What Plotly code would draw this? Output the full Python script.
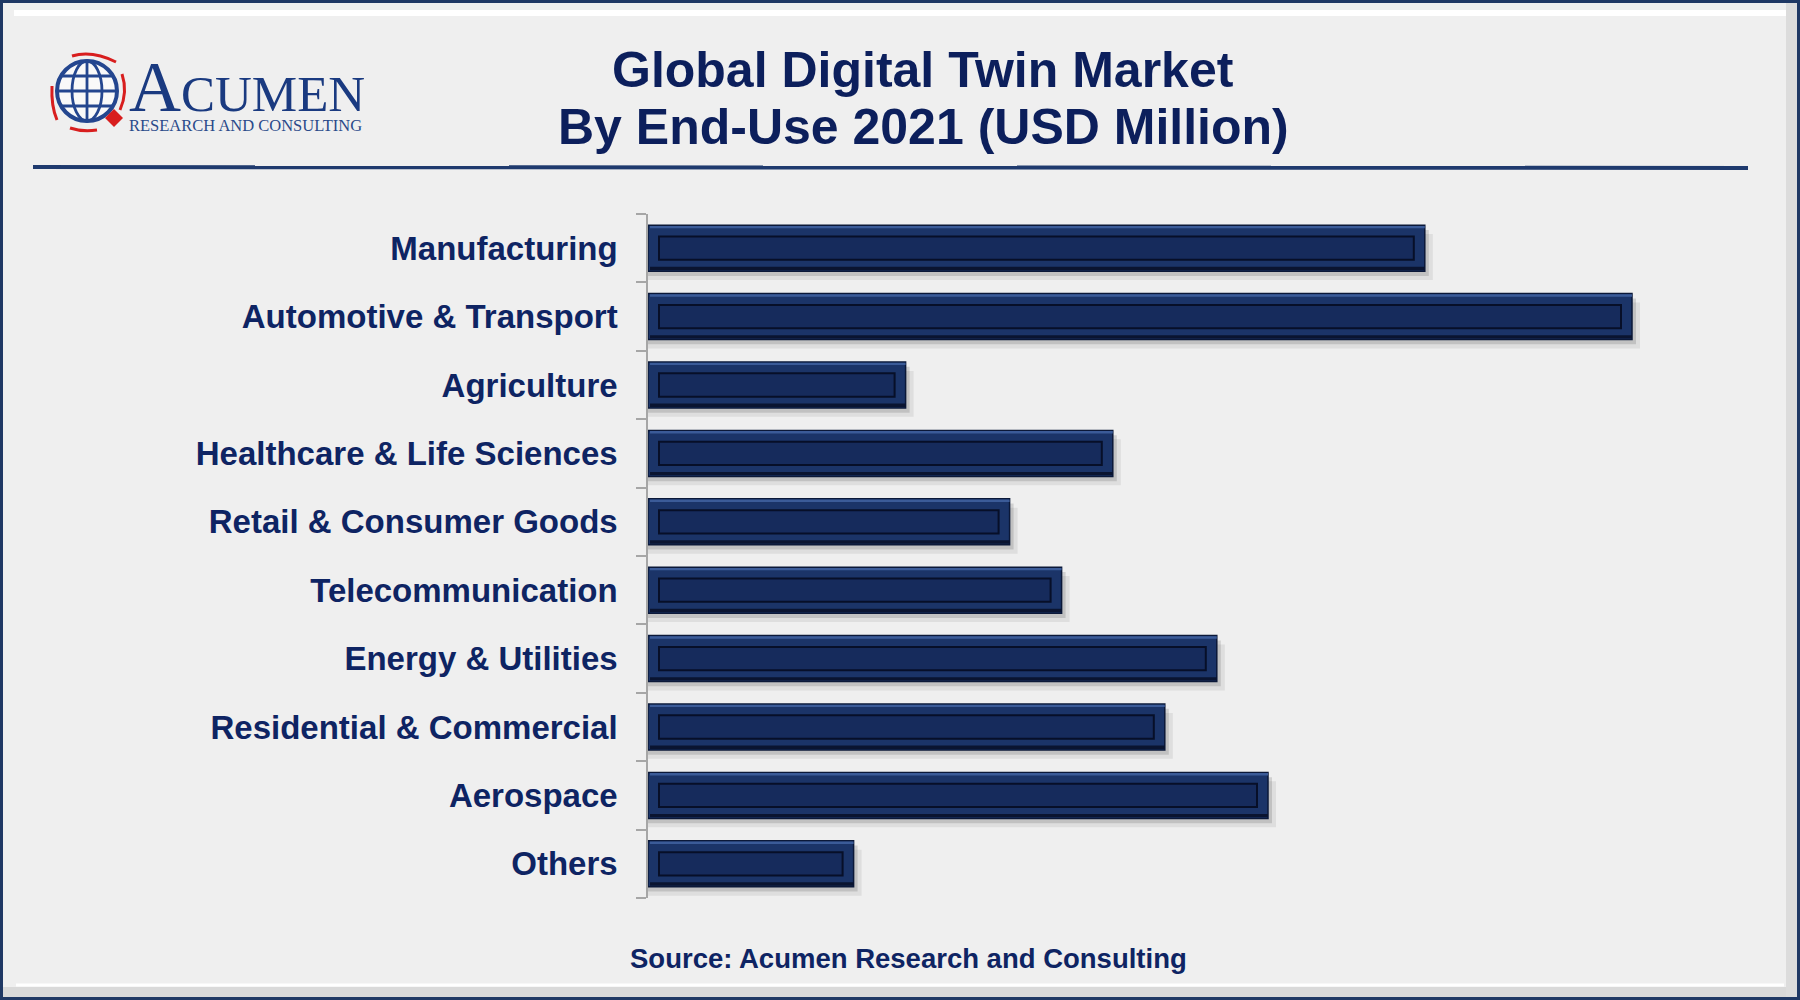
import plotly.graph_objects as go

# ---------------- data ----------------
categories = ["Manufacturing", "Automotive & Transport", "Agriculture",
              "Healthcare & Life Sciences", "Retail & Consumer Goods",
              "Telecommunication", "Energy & Utilities",
              "Residential & Commercial", "Aerospace", "Others"]
values = [971, 1230, 322, 581, 452, 517, 711, 646, 775, 257]

title_lines = ["Global Digital Twin Market", "By End-Use 2021 (USD Million)"]
source_text = "Source: Acumen Research and Consulting"

# ---------------- geometry helpers ----------------
W, H = 1800, 1000
L, R, T, B = 648, 100, 214, 102
PW, PH = W - L - R, H - T - B
XMAX = 1315.0
UPP = XMAX / PW  # data units per pixel


def px(x):
    return (x - L) / PW


def py(y):
    return 1 - (y - T) / PH


NAVY = "#0e2463"
FONT = "Liberation Sans, Arial, sans-serif"
fig = go.Figure()

BW = 0.672
inset = 11 * UPP

# shadows
fig.add_trace(go.Bar(y=categories, x=[v + 8 * UPP for v in values], orientation="h",
                     width=BW, offset=-BW / 2 + 0.13, base=0,
                     marker=dict(color="rgba(0,0,0,0.07)", line=dict(width=0)), hoverinfo="skip"))
fig.add_trace(go.Bar(y=categories, x=[v + 4 * UPP for v in values], orientation="h",
                     width=BW, offset=-BW / 2 + 0.07, base=0,
                     marker=dict(color="rgba(0,0,0,0.13)", line=dict(width=0)), hoverinfo="skip"))
# outer bevel bar
fig.add_trace(go.Bar(y=categories, x=values, orientation="h", width=BW,
                     marker=dict(color="#1b3468", line=dict(color="#0b1838", width=1.5)),
                     hovertemplate="%{y}: %{x}<extra></extra>"))
# top highlight
fig.add_trace(go.Bar(y=categories, x=[v - 2 * UPP for v in values], base=2 * UPP, orientation="h",
                     width=0.035, offset=-BW / 2 + 0.01,
                     marker=dict(color="#3b5b98", line=dict(width=0)), hoverinfo="skip"))
# bottom dark edge
fig.add_trace(go.Bar(y=categories, x=[v - 2 * UPP for v in values], base=2 * UPP, orientation="h",
                     width=0.05, offset=BW / 2 - 0.065,
                     marker=dict(color="#0a1430", line=dict(width=0)), hoverinfo="skip"))
# inner panel
fig.add_trace(go.Bar(y=categories, x=[v - 2 * inset for v in values], base=inset, orientation="h",
                     width=0.34,
                     marker=dict(color="#162b5c", line=dict(color="#070f28", width=2)),
                     hoverinfo="skip"))

shapes = []
# outer frame & bevel
shapes.append(dict(type="rect", xref="paper", yref="paper", x0=px(0), x1=px(W), y0=py(0), y1=py(H),
                   line=dict(color="#1f3864", width=6), fillcolor="rgba(0,0,0,0)", layer="below"))
shapes.append(dict(type="rect", xref="paper", yref="paper", x0=px(3), x1=px(W - 3), y0=py(H - 13), y1=py(H - 3),
                   line=dict(width=0), fillcolor="#d9d9d9", layer="below"))
shapes.append(dict(type="rect", xref="paper", yref="paper", x0=px(W - 14), x1=px(W - 3), y0=py(3), y1=py(H - 3),
                   line=dict(width=0), fillcolor="#dcdcdc", layer="below"))
shapes.append(dict(type="line", xref="paper", yref="paper", x0=px(16), x1=px(W - 16), y0=py(985), y1=py(985),
                   line=dict(color="#ffffff", width=3), layer="below"))
shapes.append(dict(type="line", xref="paper", yref="paper", x0=px(14), x1=px(W - 14), y0=py(13), y1=py(13),
                   line=dict(color="#ffffff", width=6), layer="below"))
# title underline
shapes.append(dict(type="line", xref="paper", yref="paper", x0=px(33), x1=px(1748), y0=py(167), y1=py(168),
                   line=dict(color="#1f3a6e", width=4)))

# logo: globe
cx, cy, r = 87, 91, 30
GB = "#24468f"
shapes.append(dict(type="circle", xref="paper", yref="paper", x0=px(cx - r), x1=px(cx + r),
                   y0=py(cy + r), y1=py(cy - r), line=dict(color=GB, width=4),
                   fillcolor="rgba(255,255,255,0.6)"))
shapes.append(dict(type="circle", xref="paper", yref="paper", x0=px(cx - 15), x1=px(cx + 15),
                   y0=py(cy + r), y1=py(cy - r), line=dict(color=GB, width=2.8)))
shapes.append(dict(type="line", xref="paper", yref="paper", x0=px(cx), x1=px(cx),
                   y0=py(cy + r), y1=py(cy - r), line=dict(color=GB, width=2.8)))
for dy, hw in [(-15, 26), (0, 30), (15, 26)]:
    shapes.append(dict(type="line", xref="paper", yref="paper", x0=px(cx - hw), x1=px(cx + hw),
                       y0=py(cy + dy), y1=py(cy + dy), line=dict(color=GB, width=2.8)))


def qpath(p0, c, p1):
    return "M %f,%f Q %f,%f %f,%f" % (px(p0[0]), py(p0[1]), px(c[0]), py(c[1]), px(p1[0]), py(p1[1]))


for seg in [((72, 56), (92, 50), (116, 62)), ((122, 74), (128, 92), (120, 110)),
            ((57, 120), (51, 106), (52, 86)), ((70, 128), (82, 132), (97, 130))]:
    shapes.append(dict(type="path", xref="paper", yref="paper", path=qpath(*seg),
                       line=dict(color="#d81e1e", width=3)))
shapes.append(dict(type="path", xref="paper", yref="paper",
                   path="M %f,%f L %f,%f L %f,%f L %f,%f Z" % (px(114), py(109), px(123), py(118),
                                                               px(114), py(127), px(105), py(118)),
                   line=dict(width=0), fillcolor="#d81e1e"))

annotations = []
for txt, yc in zip(title_lines, [70, 127]):
    annotations.append(dict(text="<b>" + txt + "</b>", xref="paper", yref="paper",
                            x=px(923), y=py(yc), xanchor="center", yanchor="middle", showarrow=False,
                            font=dict(family=FONT, size=50, color="#0c1f5c")))
annotations.append(dict(text="<b>" + source_text + "</b>", xref="paper", yref="paper",
                        x=px(908), y=py(958), xanchor="center", yanchor="middle", showarrow=False,
                        font=dict(family=FONT, size=27.5, color=NAVY)))
logo_text = ("<span style='font-size:72px;color:#1a3a80'>A</span>"
             "<span style='font-size:51px;color:#1a3a80'>CUMEN</span><br>"
             "<span style='font-size:16.5px'>RESEARCH AND CONSULTING</span>")
annotations.append(dict(text=logo_text, xref="paper", yref="paper", align="left",
                        x=px(127), y=py(91), xanchor="left", yanchor="middle", showarrow=False,
                        font=dict(family="Liberation Serif, Times New Roman, serif", size=15, color="#2a4a8a")))

fig.update_layout(
    width=W, height=H, barmode="overlay", showlegend=False,
    margin=dict(l=L, r=R, t=T, b=B, autoexpand=False),
    paper_bgcolor="#efefef", plot_bgcolor="rgba(0,0,0,0)",
    shapes=shapes, annotations=annotations,
    xaxis=dict(range=[0, XMAX], visible=False, fixedrange=True),
    yaxis=dict(autorange="reversed", showline=True, linecolor="#a6a6a6", linewidth=1.5,
               ticks="outside", ticklen=10, tickcolor="#a6a6a6", tickwidth=1.5,
               tickson="boundaries", showgrid=False, automargin=False, ticklabelstandoff=22,
               tickfont=dict(family=FONT, size=33, color=NAVY),
               categoryorder="array", categoryarray=categories),
)
fig.for_each_yaxis(lambda a: a.update(tickvals=categories, ticktext=["<b>%s</b>" % c for c in categories]))

fig.write_html("out.html")
